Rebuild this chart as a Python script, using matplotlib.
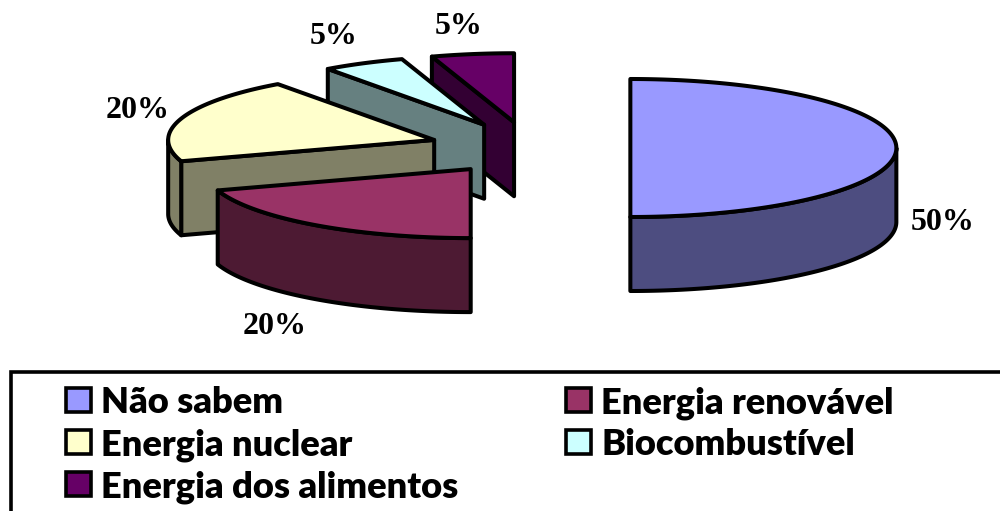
import numpy as np
import matplotlib
matplotlib.use("Agg")
import matplotlib.pyplot as plt
from matplotlib.patches import Polygon, Rectangle

categories = ["Não sabem", "Energia renovável", "Energia nuclear", "Biocombustível", "Energia dos alimentos"]
shares = [50, 20, 20, 5, 5]
share_labels = ["50%", "20%", "20%", "5%", "5%"]
top_colors = ["#9999FF", "#993366", "#FFFFCC", "#CCFFFF", "#660066"]
side_colors = ["#4D4D80", "#4D1A33", "#808066", "#668080", "#330033"]
label_pos = [(943, 223), (275, 327), (138, 111), (334, 36), (459, 27)]
legend_pos = [(66, 388), (566, 388), (66, 430), (566, 430), (66, 472)]

CX, CY, A, B, DEPTH, EXPLODE = 529.8, 148.0, 266.0, 69.0, 74.0, 0.378
LW = 2.9

fig = plt.figure(figsize=(10, 5.11), dpi=100)
ax = fig.add_axes([0, 0, 1, 1])
ax.set_xlim(0, 1000)
ax.set_ylim(511, 0)
ax.axis("off")

def pt(c, deg, r=1.0):
    t = np.radians(deg)
    return c[0] + r * A * np.sin(t), c[1] - r * B * np.cos(t)

def arc(c, a0, a1):
    n = max(2, int(abs(a1 - a0) * 2))
    return [pt(c, d) for d in np.linspace(a0, a1, n)]

def down(p):
    return (p[0], p[1] + DEPTH)

def face(points, color, z):
    ax.add_patch(Polygon(points, closed=True, facecolor=color, edgecolor="black",
                         linewidth=LW, joinstyle="round", zorder=z))

edges = np.concatenate([[0], np.cumsum(shares)]) * 360.0 / sum(shares)
paint_order = [4, 3, 2, 1, 0]
for z, i in enumerate(paint_order):
    a0, a1 = edges[i], edges[i + 1]
    mid = np.radians((a0 + a1) / 2)
    c = (CX + EXPLODE * A * np.sin(mid), CY - EXPLODE * B * np.cos(mid))
    base = z * 10
    if 180 < a0 < 360:
        p = pt(c, a0)
        face([c, p, down(p), down(c)], side_colors[i], base + 1)
    if 0 < a1 < 180:
        p = pt(c, a1)
        face([c, p, down(p), down(c)], side_colors[i], base + 1)
    s0, s1 = max(a0, 90), min(a1, 270)
    if s1 > s0:
        rim = arc(c, s0, s1)
        face(rim + [down(p) for p in rim[::-1]], side_colors[i], base + 2)
    face([c] + arc(c, a0, a1), top_colors[i], base + 3)
    ax.text(label_pos[i][0], label_pos[i][1], share_labels[i], ha="center", va="center",
            family="Liberation Serif", fontweight="bold", fontsize=23, color="black", zorder=100)

# legend frame, running off the right and bottom edges
ax.plot([11, 11, 1010], [520, 372.5, 372.5], color="black", lw=2.6, zorder=100, solid_joinstyle="miter")
for name, col, (x, y) in zip(categories, top_colors, legend_pos):
    ax.add_patch(Rectangle((x, y), 25, 24, facecolor=col, edgecolor="black", linewidth=2.6, zorder=100))
    ax.text(x + 35, y + 25, name, ha="left", va="baseline", family="Lato", fontweight="heavy",
            fontsize=26.15, color="black", zorder=100)

fig.savefig("out.png", dpi=100)
